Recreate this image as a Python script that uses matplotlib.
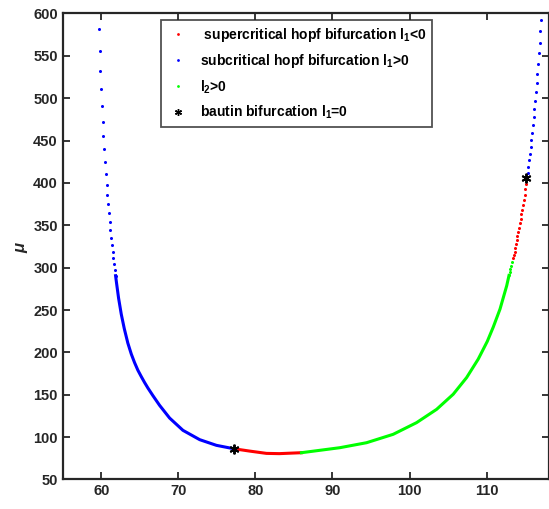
import matplotlib
matplotlib.use("Agg")
import matplotlib.pyplot as plt
from matplotlib.lines import Line2D

plt.rcParams['font.family'] = ['Liberation Sans', 'DejaVu Sans']
plt.rcParams['font.weight'] = 'bold'
plt.rcParams['mathtext.fontset'] = 'custom'
plt.rcParams['mathtext.rm'] = 'Liberation Sans:bold'
plt.rcParams['mathtext.it'] = 'Liberation Sans:italic'
plt.rcParams['mathtext.bf'] = 'Liberation Sans:bold'

# left branch, sparse blue dots (subcritical)
left_blue_dots_x = [59.69, 59.78, 59.87, 59.95, 60.04, 60.17, 60.26, 60.34, 60.47, 60.56, 60.69, 60.78,
                    60.86, 60.95, 61.08, 61.17, 61.30, 61.38, 61.47, 61.56, 61.69, 61.77, 61.86]
left_blue_dots_mu = [581.4, 555.4, 532.2, 510.5, 490.4, 471.9, 454.9, 439.5, 424.6, 411.1, 398.1, 385.9,
                     374.9, 364.3, 354.3, 344.9, 335.4, 326.8, 318.8, 311.4, 304.0, 296.9, 290.5]
# left branch, dense blue part
left_blue_x = [61.86, 61.99, 62.25, 62.60, 62.99, 63.45, 63.90, 64.32, 64.75, 65.19, 65.62, 66.05,
               66.70, 67.57, 68.87, 70.60, 72.77, 74.94, 77.18]
left_blue_mu = [290.5, 281.5, 264.0, 245.0, 228.0, 211.0, 198.0, 188.0, 179.0, 171.5, 164.5, 158.0,
                149.0, 137.5, 122.5, 108.0, 97.0, 90.3, 86.3]
# bottom red part (supercritical)
bottom_red_x = [77.18, 79.26, 81.43, 83.10, 85.97]
bottom_red_mu = [86.3, 83.5, 80.8, 80.5, 81.6]
# green part l2>0
green_x = [85.97, 90.95, 94.42, 97.87, 100.91, 103.51, 105.66, 107.40, 108.90, 110.08, 110.86,
           111.73, 112.60, 112.90]
green_mu = [81.6, 87.5, 93.4, 103.3, 117.1, 132.8, 150.6, 170.3, 192.0, 213.0, 230.0,
            251.1, 278.7, 290.9]
green_dots_x = [112.90, 112.99, 113.06, 113.16, 113.25]
green_dots_mu = [290.9, 294.9, 298.4, 302.3, 306.7]
# right branch red dots
right_red_x = [113.45, 113.55, 113.64, 113.72, 113.81, 113.90, 113.97, 114.10, 114.19, 114.32,
               114.42, 114.49, 114.59, 114.72, 114.81, 114.94, 114.97, 115.10]
right_red_mu = [311.1, 315.0, 318.9, 323.2, 328.0, 332.3, 337.1, 341.8, 346.9, 352.5,
                357.5, 363.1, 368.5, 374.5, 380.0, 386.3, 393.0, 398.9]
# right branch blue dots
right_blue_x = [115.32, 115.40, 115.49, 115.62, 115.71, 115.79, 115.92, 116.01, 116.10, 116.18,
                116.31, 116.40, 116.49, 116.57, 116.70, 116.79, 116.88, 116.96, 117.09]
right_blue_mu = [412.3, 419.4, 426.5, 434.4, 442.7, 450.6, 459.3, 467.9, 477.4, 486.8,
                 496.7, 506.9, 517.6, 529.0, 540.9, 553.0, 565.7, 579.1, 592.9]
# bautin points l1=0
bautin_x = [77.18, 115.14]
bautin_mu = [86.3, 405.7]

fig = plt.figure(figsize=(5.49, 5.09), dpi=100)
ax = fig.add_axes([0.1142, 0.058, 0.886, 0.9155])

ms = 2.2
lw = 2.2
ax.plot(left_blue_dots_x, left_blue_dots_mu, 'o', color='blue', ms=ms, mew=0)
ax.plot(left_blue_x, left_blue_mu, '-', color='blue', lw=lw)
ax.plot(bottom_red_x, bottom_red_mu, '-', color='red', lw=lw)
ax.plot(green_x, green_mu, '-', color='#00ff00', lw=lw)
ax.plot(green_dots_x, green_dots_mu, 'o', color='#00ff00', ms=ms, mew=0)
ax.plot(right_red_x, right_red_mu, 'o', color='red', ms=ms, mew=0)
ax.plot(right_blue_x, right_blue_mu, 'o', color='blue', ms=ms, mew=0)
ax.plot(bautin_x, bautin_mu, ls='none', marker=(6, 2, 0), color='black', ms=7, mew=1.4)

ax.set_xlim(55, 118.1)
ax.set_ylim(50, 600)
ax.set_xticks([60, 70, 80, 90, 100, 110])
ax.set_yticks(range(50, 601, 50))
ax.tick_params(direction='in', top=True, right=True, labelsize=10.5, width=1.3, length=5,
               color='#262626', labelcolor='#262626')
for s in ax.spines.values():
    s.set_linewidth(1.6)
    s.set_color('#262626')
ax.set_ylabel(r'$\mu$', fontsize=12, color='#262626', labelpad=2)

handles = [
    Line2D([], [], ls='none', marker='o', color='red', ms=2, mew=0),
    Line2D([], [], ls='none', marker='o', color='blue', ms=2, mew=0),
    Line2D([], [], ls='none', marker='o', color='#00ff00', ms=2, mew=0),
    Line2D([], [], ls='none', marker=(6, 2, 0), color='black', ms=5, mew=1),
]
labels = [
    r' supercritical hopf bifurcation l$_\mathbf{1}$<0',
    r'subcritical hopf bifurcation l$_\mathbf{1}$>0',
    r'l$_\mathbf{2}$>0',
    r'bautin bifurcation l$_\mathbf{1}$=0',
]
leg = ax.legend(handles, labels, loc='upper left', bbox_to_anchor=(0.202, 0.986), fontsize=10,
                frameon=True, fancybox=False, edgecolor='#262626', borderpad=0.4, borderaxespad=0,
                labelspacing=0.6, handlelength=1.6, handletextpad=0.8)
leg.get_frame().set_linewidth(1.3)

fig.savefig('out.png', dpi=100)
